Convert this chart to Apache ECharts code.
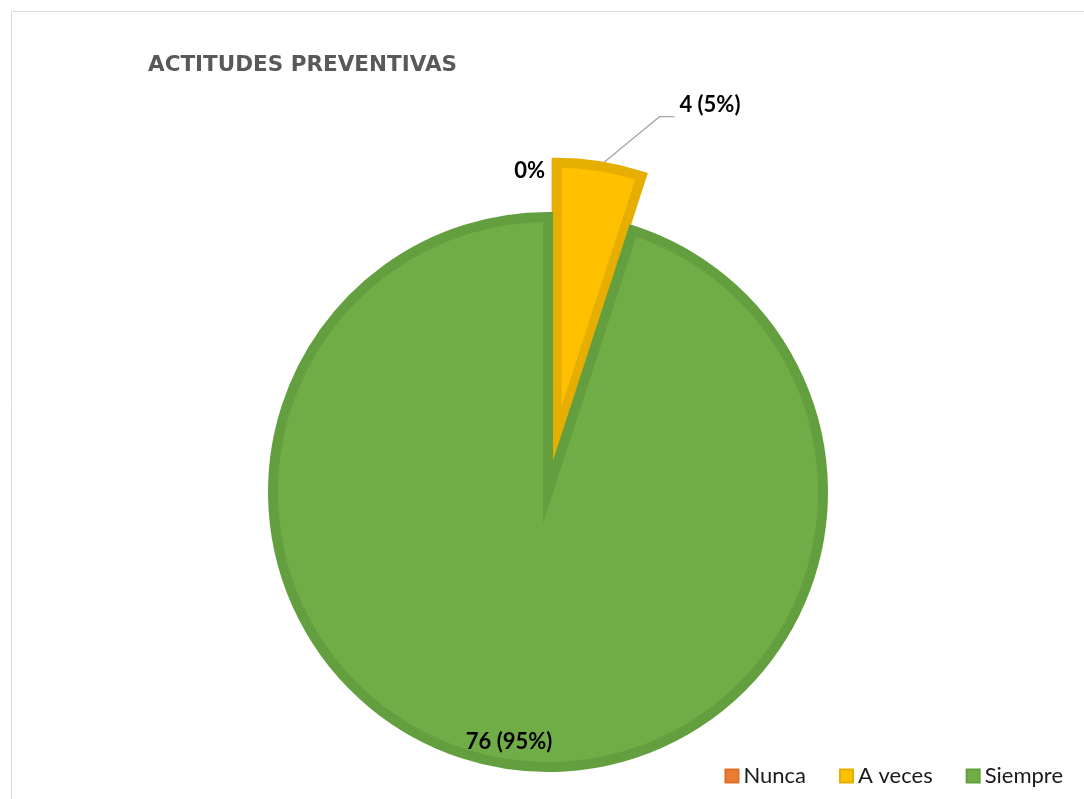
<!DOCTYPE html>
<html><head><meta charset="utf-8">
<script src="https://cdn.jsdelivr.net/npm/echarts@6/dist/echarts.min.js"></script>
<style>html,body{margin:0;padding:0;background:#fff}#c{width:1084px;height:799px}</style>
</head><body><div id="c"></div>
<script>
const titleText = 'ACTITUDES PREVENTIVAS';
const categories = ['Nunca', 'A veces', 'Siempre'];
const values = [0, 4, 76];
const fills = ['#ED7D31', '#FFC000', '#70AD47'];
const borders = ['#D9712B', '#E5AE00', '#649F3F'];
const FONT = 'Lato, "Open Sans", sans-serif';

const chart = echarts.init(document.getElementById('c'));
const data = categories.map((n, i) => ({
  name: n, value: values[i],
  selected: i === 1,
  itemStyle: {color: fills[i], borderColor: borders[i]},
  label: i === 0 ? {formatter: '{d}%', position: 'outside'} :
         i === 1 ? {formatter: '{c} ({d}%)', position: 'outside'} :
                   {formatter: '{c} ({d}%)', position: 'inside'},
  labelLine: {show: i === 1, length: 50, length2: 67}
}));

chart.setOption({
  animation: false,
  graphic: [{type: 'rect', shape: {x: 11.5, y: 11.5, width: 1100, height: 820},
    style: {fill: 'none', stroke: '#D9D9D9', lineWidth: 1}, silent: true}],
  title: {text: titleText, left: 148, top: 54, padding: 0,
    textStyle: {fontFamily: '"DejaVu Sans", sans-serif', fontSize: 21.5, fontWeight: 'bold', color: '#595959'}},
  legend: {data: categories, right: 16, top: 760, itemWidth: 13, itemHeight: 13, itemGap: 33,
    icon: 'rect', selectedMode: false,
    textStyle: {fontFamily: FONT, fontSize: 22, color: '#1a1a1a'}},
  series: [{
    type: 'pie', center: [548, 492], radius: 275, startAngle: 90, clockwise: true,
    selectedMode: 'single', selectedOffset: 55, avoidLabelOverlap: false,
    itemStyle: {borderWidth: 10, borderJoin: 'miter', borderMiterLimit: 20},
    label: {fontFamily: FONT, fontSize: 22, fontWeight: 'bold', color: '#000', alignTo: 'none'},
    labelLine: {lineStyle: {color: '#A6A6A6', width: 1.3}},
    emphasis: {disabled: true},
    data: data,
    labelLayout: function (p) {
      const pts = p.labelLinePoints;
      if (p.dataIndex === 1 && pts) {
        const p0 = pts[0];
        const p2 = pts[pts.length - 1];
        const p1b = [p2[0] - 15, p2[1]];
        return {dy: -12, labelLinePoints: [p0, p1b, p2]};
      }
      if (p.dataIndex === 0 && pts) {
        const p0 = pts[0];
        return {x: p0[0] - 3, y: p0[1] - 46, align: 'right', verticalAlign: 'middle'};
      }
      if (p.dataIndex === 2) {
        return {dx: -17, dy: 111};
      }
      return {};
    }
  }]
});
</script></body></html>
